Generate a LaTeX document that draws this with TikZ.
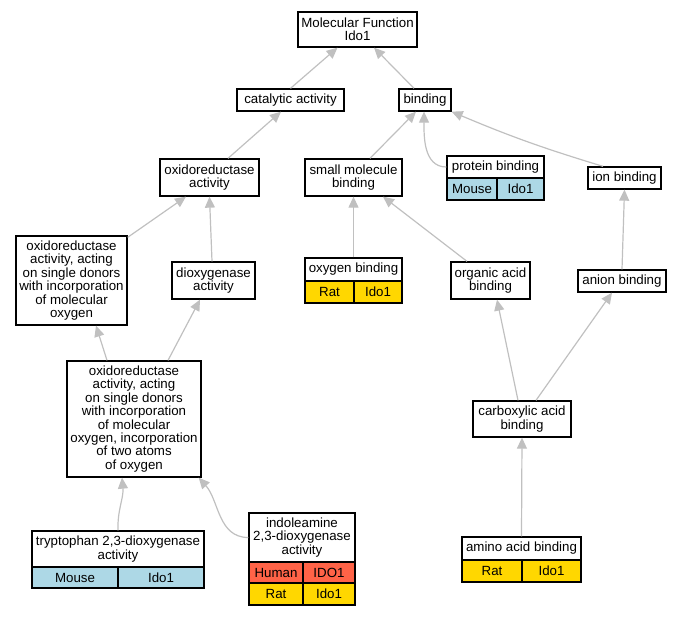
\documentclass[tikz,border=0pt]{standalone}
\usepackage{fontspec}
\setmainfont{Liberation Sans}
\usetikzlibrary{arrows.meta}

\definecolor{mouseblue}{HTML}{ADD8E6}
\definecolor{ratgold}{HTML}{FFD700}
\definecolor{humanred}{HTML}{FF6347}
\definecolor{edgegray}{HTML}{C0C0C0}

\begin{document}
\begin{tikzpicture}[x=1pt, y=-1pt,
  font=\fontsize{13.3}{13.4}\selectfont,
  term/.style={draw, line width=1.3pt, fill=white, inner sep=0pt, align=center},
  cell/.style={term, minimum height=22pt},
  isa/.style={draw=edgegray, line width=1.2pt, -{Triangle[length=11pt,width=10pt]}}]

\useasboundingbox (0,0) rectangle (680,616);

% ── Upper terms ──────────────────────────────────────────────
\node[term, minimum width=119pt, minimum height=35pt] (mf)   at (357.5,29.5) {Molecular Function\\Ido1};
\node[term, minimum width=107pt, minimum height=22pt] (cat)  at (290.5,100)  {catalytic activity};
\node[term, minimum width=52pt,  minimum height=22pt] (bind) at (425,100)    {binding};

\node[term, minimum width=99pt, minimum height=37pt] (oxr) at (209.5,177.5) {oxidoreductase\\activity};
\node[term, minimum width=97pt, minimum height=37pt] (smb) at (353.5,177.5) {small molecule\\binding};
\node[term, minimum width=73pt, minimum height=22pt] (ion) at (624.5,178)   {ion binding};

% protein binding (Mouse)
\node[term, minimum width=97pt, minimum height=22pt] (prb) at (495.5,167) {protein binding};
\node[cell, fill=mouseblue, minimum width=50pt] (prbA) at (472,189)   {Mouse};
\node[cell, fill=mouseblue, minimum width=47pt] (prbB) at (520.5,189) {Ido1};

% ── Middle terms ─────────────────────────────────────────────
\node[term, minimum width=111pt, minimum height=89pt] (oxs) at (71.5,280.5)
  {oxidoreductase\\activity, acting\\on single donors\\with incorporation\\of molecular\\oxygen};
\node[term, minimum width=83pt, minimum height=37pt] (diox)  at (213.5,280.5) {dioxygenase\\activity};
\node[term, minimum width=79pt, minimum height=37pt] (org)   at (490.5,280.5) {organic acid\\binding};
\node[term, minimum width=88pt, minimum height=22pt] (anion) at (622,281)     {anion binding};

% oxygen binding (Rat)
\node[term, minimum width=97pt, minimum height=23pt] (oxb) at (353.5,269.5) {oxygen binding};
\node[cell, fill=ratgold, minimum width=49pt] (oxbA) at (329.5,292) {Rat};
\node[cell, fill=ratgold, minimum width=48pt] (oxbB) at (378,292)   {Ido1};

\node[term, minimum width=134pt, minimum height=116pt] (oxt) at (134,419)
  {oxidoreductase\\activity, acting\\on single donors\\with incorporation\\of molecular\\oxygen, incorporation\\of two atoms\\of oxygen};
\node[term, minimum width=98pt, minimum height=36pt] (carb) at (522,419) {carboxylic acid\\binding};

% ── Leaf terms ───────────────────────────────────────────────
% tryptophan 2,3-dioxygenase activity (Mouse)
\node[term, minimum width=172pt, minimum height=36pt] (trp) at (118,549) {tryptophan 2,3-dioxygenase\\activity};
\node[cell, fill=mouseblue, minimum width=86pt, minimum height=21pt] (trpA) at (75,577.5)  {Mouse};
\node[cell, fill=mouseblue, minimum width=86pt, minimum height=21pt] (trpB) at (161,577.5) {Ido1};

% indoleamine 2,3-dioxygenase activity (Human, Rat)
\node[term, minimum width=106pt, minimum height=49pt] (ind) at (302,537.5) {indoleamine\\2,3-dioxygenase\\activity};
\node[cell, fill=humanred, minimum width=54pt, minimum height=21pt] (indA) at (276,572.5) {Human};
\node[cell, fill=humanred, minimum width=52pt, minimum height=21pt] (indB) at (329,572.5) {IDO1};
\node[cell, fill=ratgold,  minimum width=54pt] (indC) at (276,594) {Rat};
\node[cell, fill=ratgold,  minimum width=52pt] (indD) at (329,594) {Ido1};

% amino acid binding (Rat)
\node[term, minimum width=119pt, minimum height=23pt] (amino) at (521.5,548.5) {amino acid binding};
\node[cell, fill=ratgold, minimum width=60pt] (aminoA) at (492,571)   {Rat};
\node[cell, fill=ratgold, minimum width=59pt] (aminoB) at (551.5,571) {Ido1};

% ── is_a edges ───────────────────────────────────────────────
\draw[isa] (cat.north) -- ([xshift=-20pt]mf.south);
\draw[isa] ([xshift=-11pt]bind.north) -- ([xshift=16.5pt]mf.south);

\draw[isa] ([xshift=18.5pt]oxr.north) -- ([xshift=-9.5pt]cat.south);
\draw[isa] ([xshift=16.5pt]smb.north) -- ([xshift=-9pt]bind.south);
\draw[isa] (prb.west) to[out=180, in=-90] ([xshift=-1pt]bind.south);
\draw[isa] ([xshift=-21.5pt]ion.north) to[bend left=3] (bind.south east);

\draw[isa] ([yshift=-2pt]oxs.north east) -- ([xshift=-23.5pt]oxr.south);
\draw[isa] ([xshift=-1.5pt]diox.north) -- (oxr.south);
\draw[isa] (oxb.north) -- (smb.south);
\draw[isa] ([xshift=-23.5pt]org.north) -- ([xshift=29.5pt]smb.south);
\draw[isa] (anion.north) -- (ion.south);

\draw[isa] ([xshift=-27pt]oxt.north) -- ([xshift=24.5pt]oxs.south);
\draw[isa] ([xshift=34pt]oxt.north) -- ([xshift=-13.5pt]diox.south);
\draw[isa] ([xshift=-4pt]carb.north) -- ([xshift=6.5pt]org.south);
\draw[isa] ([xshift=14pt]carb.north) -- ([xshift=-10pt]anion.south);

\draw[isa] (trp.north) to[out=92, in=-85] ([xshift=-12pt]oxt.south);
\draw[isa] (ind.west) to[out=180, in=-48] ([xshift=-3pt]oxt.south east);
\draw[isa] (amino.north) -- (carb.south);

\end{tikzpicture}
\end{document}
